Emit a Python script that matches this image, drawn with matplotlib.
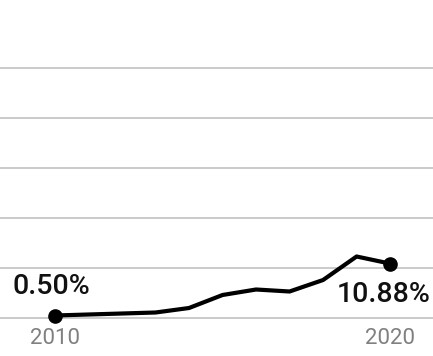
import matplotlib.pyplot as plt

years = [2010, 2011, 2012, 2013, 2014, 2015, 2016, 2017, 2018, 2019, 2020]
share = [0.50, 0.7, 0.9, 1.1, 2.0, 4.6, 5.7, 5.3, 7.6, 12.3, 10.88]
grid_values = [0, 10, 20, 30, 40, 50]
year_labels = [2010, 2020]
first_label = '0.50%'
last_label = '10.88%'

plt.rcParams['font.family'] = ['Roboto', 'DejaVu Sans']

fig = plt.figure(figsize=(4.33, 3.56), dpi=100)
ax = fig.add_axes([0, 0, 1, 1])
ax.set_xlim(2008.36, 2021.28)
ax.set_ylim(-7.6, 63.6)
ax.axis('off')

for g in grid_values:
    ax.axhline(g, color='#c6c6c6', lw=1.3, zorder=1)

ax.plot(years, share, color='black', lw=3.0, solid_joinstyle='round',
        solid_capstyle='round', zorder=3)
ax.plot([years[0], years[-1]], [share[0], share[-1]], 'o', color='black',
        ms=9.5, zorder=4)

for yr in year_labels:
    ax.text(yr, -4.2, str(yr), ha='center', va='center', fontsize=16,
            color='#808080')

ax.text(years[0] - 1.27, 6.2, first_label, ha='left', va='center',
        fontsize=20.5, color='#111111', fontweight='medium')
ax.text(2021.2, 4.6, last_label, ha='right', va='center',
        fontsize=20.5, color='#111111', fontweight='medium')

fig.savefig('out.png', dpi=100)
